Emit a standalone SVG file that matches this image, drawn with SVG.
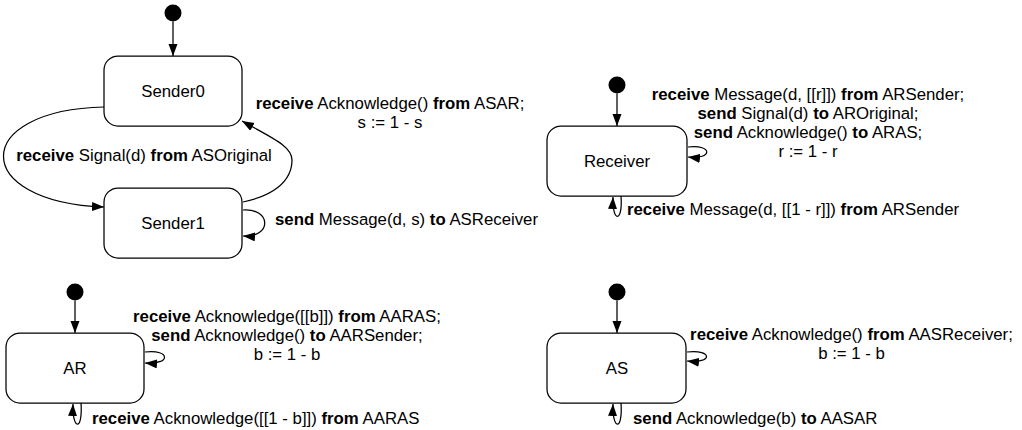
<svg xmlns="http://www.w3.org/2000/svg" width="1022" height="430" viewBox="0 0 1022 430">
  <defs>
    <marker id="arrow" markerUnits="userSpaceOnUse" markerWidth="13" markerHeight="10" refX="12" refY="4.5" orient="auto">
      <path d="M0,0 L12,4.5 L0,9 z" fill="#000"/>
    </marker>
    <style>
      .state { fill: #fff; stroke: #000; stroke-width: 1.25; }
      .init { fill: #000; }
      .edge { fill: none; stroke: #000; stroke-width: 1.25; marker-end: url(#arrow); }
      text { font-family: "Liberation Sans", Arial, sans-serif; font-size: 16.8px; fill: #000; }
      .name { text-anchor: middle; }
      .mid { text-anchor: middle; }
      .kw { font-weight: bold; }
    </style>
  </defs>

  <rect width="1022" height="430" fill="#fff"/>

  <!-- states -->
  <g id="sender-init"><circle class="init" cx="173" cy="13" r="8.5"/></g>
  <g id="sender0">
    <rect class="state" x="104" y="56" width="138" height="70" rx="14"/>
    <text class="name" x="173" y="97">Sender0</text>
  </g>
  <g id="sender1">
    <rect class="state" x="104" y="188" width="138" height="70" rx="14"/>
    <text class="name" x="173" y="229">Sender1</text>
  </g>

  <g id="receiver-init"><circle class="init" cx="617" cy="85" r="8.5"/></g>
  <g id="receiver">
    <rect class="state" x="547" y="126" width="140" height="70" rx="14"/>
    <text class="name" x="617" y="167">Receiver</text>
  </g>

  <g id="ar-init"><circle class="init" cx="75" cy="292" r="8.5"/></g>
  <g id="ar">
    <rect class="state" x="6" y="333" width="138" height="70" rx="14"/>
    <text class="name" x="75" y="374">AR</text>
  </g>

  <g id="as-init"><circle class="init" cx="617" cy="292" r="8.5"/></g>
  <g id="as">
    <rect class="state" x="547" y="333" width="139" height="70" rx="14"/>
    <text class="name" x="617" y="374">AS</text>
  </g>

  <!-- transitions -->
  <g id="connectors">
    <path class="edge" d="M173,21.5 L173,56"/>
    <path class="edge" d="M104,107 C-30,110 -30,202 104,207"/>
    <path class="edge" d="M243,202 C272,196 292,182 292,160 C292,146 272,138 242,121"/>
    <path class="edge" d="M243,210 C272,208 272,238 243,236"/>

    <path class="edge" d="M617,93.5 L617,126"/>
    <path class="edge" d="M688,147 C713,144 713,160 688,157"/>
    <path class="edge" d="M621,196 C623,224 612,222 613,197"/>

    <path class="edge" d="M75,300.5 L75,333"/>
    <path class="edge" d="M145,352 C171,349 171,365 145,363"/>
    <path class="edge" d="M81,403 C83,432 72,430 73,404"/>

    <path class="edge" d="M617,300.5 L617,333"/>
    <path class="edge" d="M687,352 C713,349 713,364 687,361"/>
    <path class="edge" d="M621,403 C623,432 612,430 613,404"/>
  </g>

  <!-- transition labels -->
  <g id="labels">
    <text class="mid" x="144" y="161"><tspan class="kw">receive</tspan> Signal(d) <tspan class="kw">from</tspan> ASOriginal</text>
    <text class="mid" x="390" y="109"><tspan class="kw">receive</tspan> Acknowledge() <tspan class="kw">from</tspan> ASAR;</text>
    <text class="mid" x="390" y="128">s := 1 - s</text>
    <text x="275" y="225"><tspan class="kw">send</tspan> Message(d, s) <tspan class="kw">to</tspan> ASReceiver</text>

    <text class="mid" x="808" y="100"><tspan class="kw">receive</tspan> Message(d, [[r]]) <tspan class="kw">from</tspan> ARSender;</text>
    <text class="mid" x="808" y="119"><tspan class="kw">send</tspan> Signal(d) <tspan class="kw">to</tspan> AROriginal;</text>
    <text class="mid" x="808" y="138"><tspan class="kw">send</tspan> Acknowledge() <tspan class="kw">to</tspan> ARAS;</text>
    <text class="mid" x="808" y="157">r := 1 - r</text>
    <text x="627" y="215"><tspan class="kw">receive</tspan> Message(d, [[1 - r]]) <tspan class="kw">from</tspan> ARSender</text>

    <text class="mid" x="287" y="322"><tspan class="kw">receive</tspan> Acknowledge([[b]]) <tspan class="kw">from</tspan> AARAS;</text>
    <text class="mid" x="287" y="341"><tspan class="kw">send</tspan> Acknowledge() <tspan class="kw">to</tspan> AARSender;</text>
    <text class="mid" x="287" y="360">b := 1 - b</text>
    <text x="92" y="424"><tspan class="kw">receive</tspan> Acknowledge([[1 - b]]) <tspan class="kw">from</tspan> AARAS</text>

    <text class="mid" x="851.5" y="340"><tspan class="kw">receive</tspan> Acknowledge() <tspan class="kw">from</tspan> AASReceiver;</text>
    <text class="mid" x="851.5" y="359">b := 1 - b</text>
    <text x="633" y="424"><tspan class="kw">send</tspan> Acknowledge(b) <tspan class="kw">to</tspan> AASAR</text>
  </g>
</svg>
